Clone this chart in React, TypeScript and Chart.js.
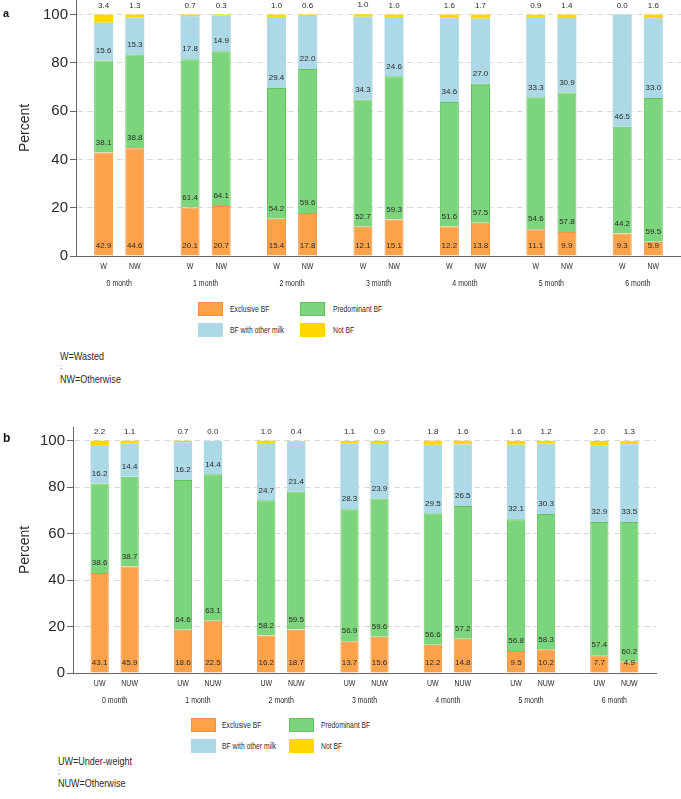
import React, { useEffect, useRef } from 'react';
import { Chart, registerables } from 'chart.js';
Chart.register(...registerables);

const MONTHS = ['0 month', '1 month', '2 month', '3 month', '4 month', '5 month', '6 month'];
const SERIES = ['Exclusive BF', 'Predominant BF', 'BF with other milk', 'Not BF'];
const Y_TICKS = [0, 20, 40, 60, 80, 100];

// Panel a: W = Wasted, NW = Otherwise
const A_GROUPS = ['W', 'NW'];
const A_EXCL_W = [42.9, 20.1, 15.4, 12.1, 12.2, 11.1, 9.3];
const A_EXCL_NW = [44.6, 20.7, 17.8, 15.1, 13.8, 9.9, 5.9];
const A_PRED_W = [38.1, 61.4, 54.2, 52.7, 51.6, 54.6, 44.2];
const A_PRED_NW = [38.8, 64.1, 59.6, 59.3, 57.5, 57.8, 59.5];
const A_MILK_W = [15.6, 17.8, 29.4, 34.3, 34.6, 33.3, 46.5];
const A_MILK_NW = [15.3, 14.9, 22.0, 24.6, 27.0, 30.9, 33.0];
const A_NOT_W = [3.4, 0.7, 1.0, 1.0, 1.6, 0.9, 0.0];
const A_NOT_NW = [1.3, 0.3, 0.6, 1.0, 1.7, 1.4, 1.6];

// Panel b: UW = Under-weight, NUW = Otherwise
const B_GROUPS = ['UW', 'NUW'];
const B_EXCL_UW = [43.1, 18.6, 16.2, 13.7, 12.2, 9.5, 7.7];
const B_EXCL_NUW = [45.9, 22.5, 18.7, 15.6, 14.8, 10.2, 4.9];
const B_PRED_UW = [38.6, 64.6, 58.2, 56.9, 56.6, 56.8, 57.4];
const B_PRED_NUW = [38.7, 63.1, 59.5, 59.6, 57.2, 58.3, 60.2];
const B_MILK_UW = [16.2, 16.2, 24.7, 28.3, 29.5, 32.1, 32.9];
const B_MILK_NUW = [14.4, 14.4, 21.4, 23.9, 26.5, 30.3, 33.5];
const B_NOT_UW = [2.2, 0.7, 1.0, 1.1, 1.8, 1.6, 2.0];
const B_NOT_NUW = [1.1, 0.0, 0.4, 0.9, 1.6, 1.2, 1.3];

const FILL = ['#FBA24B', '#7CD57C', '#ADD8E6', '#FFD700'];
const BORDER = ['#F3913A', '#5CC55C', '#ADD8E6', '#FFD700'];

const REG = '"Liberation Sans", Arial, sans-serif';
const TXT = '#2b2b2b';
const SQUEEZE = 0.82;

function narrowText(ctx: any, text: string, x: number, y: number) {
  ctx.save();
  ctx.translate(x, y);
  ctx.scale(SQUEEZE, 1);
  ctx.fillText(text, 0, 0);
  ctx.restore();
}

type PanelProps = {
  top: number;
  height: number;
  padTop: number;
  padRight: number;
  yWidth: number;
  groups: string[];
  values: number[][][]; // [series][group][month]
};

function Panel({ top, height, padTop, padRight, yWidth, groups, values }: PanelProps) {
  const ref = useRef<HTMLCanvasElement | null>(null);
  useEffect(() => {
    if (!ref.current) return;
    const datasets: any[] = [];
    SERIES.forEach((name, s) => {
      groups.forEach((g, gi) => {
        datasets.push({
          label: name,
          data: values[s][gi],
          stack: g,
          backgroundColor: FILL[s],
          borderColor: BORDER[s],
          borderWidth: s < 2 ? 1 : 0,
          categoryPercentage: 0.72,
          barPercentage: 0.61,
        });
      });
    });
    const nG = groups.length;
    const labelPlugin = {
      id: 'barLabels',
      afterDatasetsDraw(chart: any) {
        const ctx = chart.ctx;
        ctx.save();
        ctx.textAlign = 'center';
        ctx.textBaseline = 'middle';
        ctx.fillStyle = TXT;
        ctx.font = `8px ${REG}`;
        chart.data.datasets.forEach((ds: any, i: number) => {
          const meta = chart.getDatasetMeta(i);
          const s = Math.floor(i / nG);
          meta.data.forEach((el: any, j: number) => {
            const v = ds.data[j];
            const y = s === 3 ? el.y - 9 : el.base - 10;
            ctx.fillText(v.toFixed(1), el.x, y);
          });
        });
        ctx.font = `8.5px ${REG}`;
        const bottom = chart.chartArea.bottom;
        groups.forEach((g, gi) => {
          const meta = chart.getDatasetMeta(gi);
          meta.data.forEach((el: any) => {
            narrowText(ctx, g, el.x, bottom + 11);
          });
        });
        const xs = chart.scales.x;
        MONTHS.forEach((m, i) => {
          narrowText(ctx, m, xs.getPixelForTick(i), bottom + 28);
        });
        ctx.restore();
      },
    };
    const chart = new Chart(ref.current, {
      type: 'bar',
      data: { labels: MONTHS, datasets },
      options: {
        animation: false,
        responsive: false,
        devicePixelRatio: 1,
        layout: { padding: { top: padTop, right: padRight, left: 0, bottom: 0 } },
        plugins: { legend: { display: false }, tooltip: { enabled: false } },
        scales: {
          x: {
            type: 'category',
            stacked: true,
            grid: { display: false, drawTicks: false },
            border: { display: true, color: '#666666', width: 1 },
            ticks: { display: false },
            afterFit: (s: any) => {
              s.height = 44;
              s.paddingLeft = 0;
              s.paddingRight = 0;
            },
          },
          y: {
            stacked: true,
            min: 0,
            max: 106,
            ticks: { stepSize: 20, font: { family: REG, size: 15 }, color: TXT, padding: 2 },
            grid: { color: '#DADADA', lineWidth: 1, drawTicks: true, tickLength: 6, tickColor: '#666666', tickWidth: 1 },
            border: { display: true, color: '#666666', width: 1, dash: [6, 4] },
            title: { display: true, text: 'Percent', font: { family: REG, size: 14 }, color: TXT, padding: { top: 16.5, bottom: 0 } },
            afterBuildTicks: (s: any) => {
              s.ticks = Y_TICKS.map((v) => ({ value: v }));
            },
            afterFit: (s: any) => {
              s.width = yWidth;
              s.paddingTop = 0;
              s.paddingBottom = 0;
            },
          },
        },
      },
      plugins: [labelPlugin],
    });
    return () => chart.destroy();
  }, []);
  return (
    <canvas
      ref={ref}
      width={681}
      height={height}
      style={{ position: 'absolute', left: 0, top, width: 681, height, display: 'block' }}
    />
  );
}

// text centred vertically on `cy`, horizontally squeezed like a narrow face
function NarrowLine({ text, left, cy, size }: { text: string; left: number; cy: number; size: number }) {
  const lh = Math.round(size * 1.4);
  return (
    <div
      style={{
        position: 'absolute',
        left,
        top: cy - lh / 2,
        height: lh,
        lineHeight: `${lh}px`,
        fontFamily: REG,
        fontSize: size,
        color: TXT,
        whiteSpace: 'nowrap',
        transform: `scaleX(${SQUEEZE})`,
        transformOrigin: 'left center',
      }}
    >
      {text}
    </div>
  );
}

function Legend({ cy, x1, x2, t1, t2 }: { cy: number; x1: number; x2: number; t1: number; t2: number }) {
  const items = [
    { s: 0, x: x1, tx: t1, row: 0 },
    { s: 1, x: x2, tx: t2, row: 0 },
    { s: 2, x: x1, tx: t1, row: 1 },
    { s: 3, x: x2, tx: t2, row: 1 },
  ];
  return (
    <>
      {items.map((it) => (
        <React.Fragment key={it.s}>
          <div
            style={{
              position: 'absolute',
              left: it.x,
              top: cy + it.row * 21 - 7,
              width: 25,
              height: 14,
              boxSizing: 'border-box',
              background: FILL[it.s],
              border: `1px solid ${BORDER[it.s]}`,
            }}
          />
          <NarrowLine text={SERIES[it.s]} left={it.tx} cy={cy + it.row * 21} size={8.3} />
        </React.Fragment>
      ))}
    </>
  );
}

function Note({ left, y1, y2, y3, lines }: { left: number; y1: number; y2: number; y3: number; lines: string[] }) {
  return (
    <>
      <NarrowLine text={lines[0]} left={left} cy={y1} size={11} />
      <NarrowLine text=";" left={left} cy={y2} size={8} />
      <NarrowLine text={lines[1]} left={left} cy={y3} size={11} />
    </>
  );
}

export default function App() {
  const aValues = [
    [A_EXCL_W, A_EXCL_NW],
    [A_PRED_W, A_PRED_NW],
    [A_MILK_W, A_MILK_NW],
    [A_NOT_W, A_NOT_NW],
  ];
  const bValues = [
    [B_EXCL_UW, B_EXCL_NUW],
    [B_PRED_UW, B_PRED_NUW],
    [B_MILK_UW, B_MILK_NUW],
    [B_NOT_UW, B_NOT_NUW],
  ];
  return (
    <div style={{ position: 'absolute', left: 0, top: 0, width: 681, height: 799, overflow: 'hidden', background: '#fff' }}>
      <Panel top={0} height={300} padTop={0} padRight={0} yWidth={76} groups={A_GROUPS} values={aValues} />
      <Panel top={417} height={300} padTop={10} padRight={25} yWidth={73} groups={B_GROUPS} values={bValues} />
      <div style={{ position: 'absolute', left: 3, top: 7, fontFamily: REG, fontWeight: 'bold', fontSize: 11, lineHeight: '13px', color: '#111' }}>a</div>
      <div style={{ position: 'absolute', left: 3, top: 431, fontFamily: REG, fontWeight: 'bold', fontSize: 12, lineHeight: '14px', color: '#111' }}>b</div>
      <Legend cy={309} x1={198} x2={300} t1={230} t2={333} />
      <Legend cy={725} x1={191} x2={289} t1={222} t2={321} />
      <Note left={60} y1={356} y2={366} y3={379} lines={['W=Wasted', 'NW=Otherwise']} />
      <Note left={58} y1={761} y2={771} y3={783} lines={['UW=Under-weight', 'NUW=Otherwise']} />
    </div>
  );
}
